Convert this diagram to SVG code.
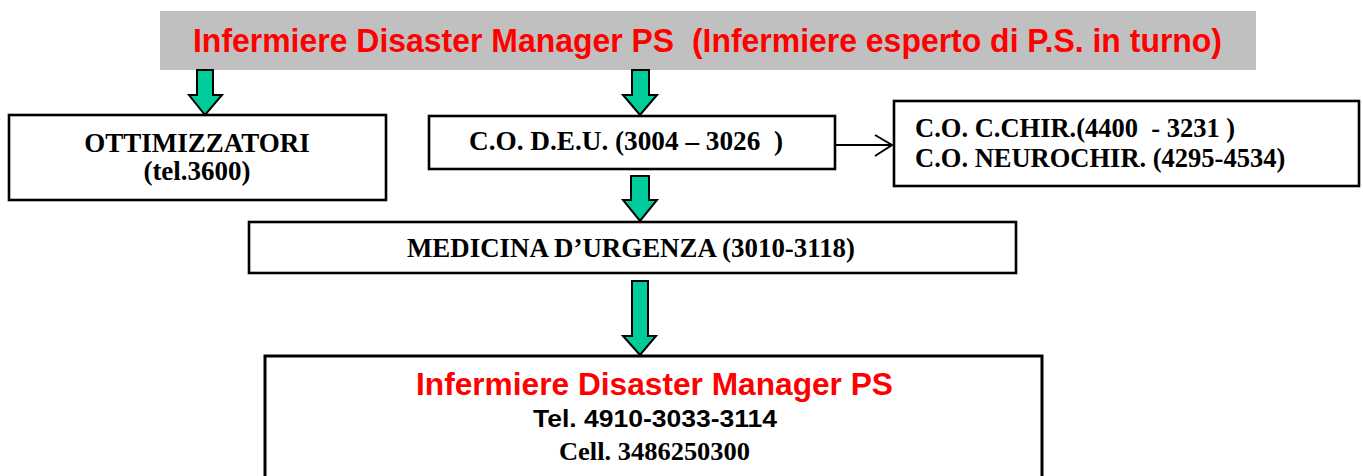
<svg xmlns="http://www.w3.org/2000/svg" width="1363" height="476" viewBox="0 0 1363 476">
<defs>
<style>
.box{fill:#ffffff;stroke:#000000;stroke-width:2.6}
.tms{font-family:"Liberation Serif","Times New Roman",serif;font-weight:bold;fill:#000000}
.ars{font-family:"Liberation Sans",Arial,sans-serif;font-weight:bold}
.red{fill:#ff0000}
.garrow{fill:#00cc99;stroke:#000000;stroke-width:2;stroke-linejoin:miter}
.link{fill:none;stroke:#000000;stroke-width:2}
</style>
</defs>
<rect x="0" y="0" width="1363" height="476" fill="#ffffff"/>
<g id="title">
<rect x="160" y="11" width="1096" height="59" fill="#c0c0c0"/>
<text class="ars red" x="193" y="52" font-size="32.5" textLength="1029" lengthAdjust="spacingAndGlyphs" xml:space="preserve">Infermiere Disaster Manager PS  (Infermiere esperto di P.S. in turno)</text>
</g>
<g id="ottimizzatori">
<rect class="box" x="9" y="115" width="377" height="85"/>
<text class="tms" x="197" y="152" font-size="27" text-anchor="middle">OTTIMIZZATORI</text>
<text class="tms" x="197" y="180" font-size="27" text-anchor="middle">(tel.3600)</text>
</g>
<g id="codeu">
<rect class="box" x="429" y="116" width="406" height="53"/>
<text class="tms" x="469" y="150" font-size="27" textLength="314" lengthAdjust="spacingAndGlyphs" xml:space="preserve">C.O. D.E.U. (3004 – 3026  )</text>
</g>
<g id="cochir">
<rect class="box" x="894" y="101" width="465" height="85"/>
<text class="tms" x="915" y="137" font-size="26.5" xml:space="preserve">C.O. C.CHIR.(4400  - 3231 )</text>
<text class="tms" x="915" y="167" font-size="26.5">C.O. NEUROCHIR. (4295-4534)</text>
</g>
<g id="medicina">
<rect class="box" x="249" y="222" width="767" height="51"/>
<text class="tms" x="407" y="257" font-size="27" textLength="448" lengthAdjust="spacingAndGlyphs">MEDICINA D’URGENZA (3010-3118)</text>
</g>
<g id="disaster-manager">
<rect class="box" x="265" y="356" width="777" height="140" style="stroke-width:3"/>
<text class="ars red" x="416" y="395" font-size="31" textLength="477" lengthAdjust="spacingAndGlyphs">Infermiere Disaster Manager PS</text>
<text class="ars" x="533" y="427" font-size="24" textLength="244" lengthAdjust="spacingAndGlyphs">Tel. 4910-3033-3114</text>
<text class="tms" x="559" y="460" font-size="26" textLength="191" lengthAdjust="spacingAndGlyphs">Cell. 3486250300</text>
</g>
<g id="connectors">
<polygon class="garrow" points="197,70 213,70 213,95 222,95 205,115 189,95 197,95"/>
<polygon class="garrow" points="632,70 649,70 649,95 657,95 640,115 623,95 632,95"/>
<polygon class="garrow" points="631,176 649,176 649,200 657,200 640,221 623,200 631,200"/>
<polygon class="garrow" points="632,281 648,281 648,336 656,336 640,355 623,336 632,336"/>
<line class="link" x1="835" y1="145" x2="892" y2="145"/>
<polyline class="link" points="875,135 892,145 875,156"/>
</g>
</svg>
